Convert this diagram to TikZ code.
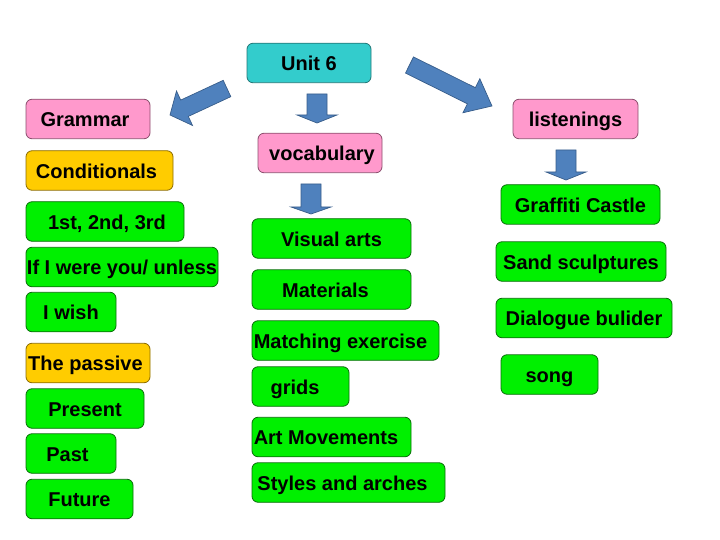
\documentclass[tikz,border=0pt]{standalone}
\usepackage{fontspec}
\setmainfont{Liberation Sans}
\usetikzlibrary{calc}

\definecolor{tealfill}{HTML}{33CCCC}
\definecolor{tealline}{HTML}{237878}
\definecolor{pinkfill}{HTML}{FF99CC}
\definecolor{pinkline}{HTML}{8C4F6E}
\definecolor{orangefill}{HTML}{FFCC00}
\definecolor{orangeline}{HTML}{8C6C00}
\definecolor{greenfill}{HTML}{00F000}
\definecolor{greenline}{HTML}{0A6E0A}
\definecolor{arrowfill}{HTML}{4F81BD}
\definecolor{arrowline}{HTML}{385D8A}

% block arrow: tail, tip, head length, shaft half width, head half width
\newcommand\blockarrow[5]{%
  \filldraw[arrowbody] let \p1=($(#2)-(#1)$), \n1={atan2(\y1,\x1)}, \n2={veclen(\x1,\y1)} in
    [shift={(#1)}, rotate=\n1] (0,-#4) -- (\n2-#3,-#4) -- (\n2-#3,-#5) -- (\n2,0)
    -- (\n2-#3,#5) -- (\n2-#3,#4) -- (0,#4) -- cycle;}
% trailing space pushes the text to the left
\newcommand\pad[1]{\hspace*{#1pt}}

\begin{document}
\begin{tikzpicture}[x=1pt,y=-1pt]
\tikzstyle{box}=[draw, rounded corners=6pt, line width=0.8pt, inner sep=0pt,
  minimum height=39.5, text height=15.5pt, text depth=0pt, text=black,
  font=\fontsize{20}{22}\selectfont\bfseries]
\tikzstyle{teal}=[box, fill=tealfill, draw=tealline]
\tikzstyle{pink}=[box, fill=pinkfill, draw=pinkline]
\tikzstyle{orange}=[box, fill=orangefill, draw=orangeline]
\tikzstyle{green}=[box, fill=greenfill, draw=greenline]
\tikzstyle{arrowbody}=[fill=arrowfill, draw=arrowline, line width=0.7pt, line join=miter]
    \useasboundingbox (0,0) rectangle (720,540);

    \node[teal, minimum width=124] (unit) at (309,63) {Unit 6};

    % grammar column
    \node[pink, minimum width=124] (gram) at (88,119) {Grammar\pad{6}};
    \node[orange, minimum width=147] (cond) at (99.5,170.5) {Conditionals\pad{6}};
    \node[green, minimum width=158] (nth) at (105,221.5) {\pad{4}1st, 2nd, 3rd};
    \node[green, minimum width=192] (ifi) at (122,267) {If I were you/ unless};
    \node[green, minimum width=90] (wish) at (71,312) {I wish};
    \node[orange, minimum width=124] (pass) at (88,363) {The passive\pad{5}};
    \node[green, minimum width=118] (pres) at (85,408.5) {Present};
    \node[green, minimum width=90] (past) at (71,453.5) {Past\pad{7}};
    \node[green, minimum width=107] (fut) at (79.5,499) {Future};

    % vocabulary column
    \node[pink, minimum width=124] (voc) at (320,153) {\pad{4}vocabulary};
    \node[green, minimum width=159] (arts) at (331.5,238.5) {Visual arts};
    \node[green, minimum width=159] (mat) at (331.5,289.5) {Materials\pad{12}};
    \node[green, minimum width=187] (match) at (345.5,340.5) {Matching exercise\pad{10}};
    \node[green, minimum width=97] (grid) at (300.5,386.5) {grids\pad{11}};
    \node[green, minimum width=159] (move) at (331.5,437) {Art Movements\pad{11}};
    \node[green, minimum width=193] (style) at (348.5,482.5) {Styles and arches\pad{12}};

    % listening column
    \node[pink, minimum width=125] (list) at (575.5,119) {listenings};
    \node[green, minimum width=159] (graf) at (580.5,204.5) {Graffiti Castle};
    \node[green, minimum width=170] (sand) at (581,261.5) {Sand sculptures};
    \node[green, minimum width=176] (dial) at (584,318) {Dialogue bulider};
    \node[green, minimum width=97] (song) at (549.5,374.5) {song};

    % arrows
    \coordinate (gt) at (227,88.5);
    \coordinate (gh) at (170,115);
    \coordinate (vt) at (317,94);
    \coordinate (vh) at (317,123);
    \coordinate (lt) at (409.5,65);
    \coordinate (lh) at (492,106);
    \coordinate (at) at (311,184);
    \coordinate (ah) at (311,214);
    \coordinate (ft) at (566,150);
    \coordinate (fh) at (566,180);

    \blockarrow{gt}{gh}{16}{9}{19}
    \blockarrow{vt}{vh}{8}{10}{20}
    \blockarrow{lt}{lh}{23}{9}{19}
    \blockarrow{at}{ah}{7}{10}{20}
    \blockarrow{ft}{fh}{8}{10}{20}

\end{tikzpicture}
\end{document}
